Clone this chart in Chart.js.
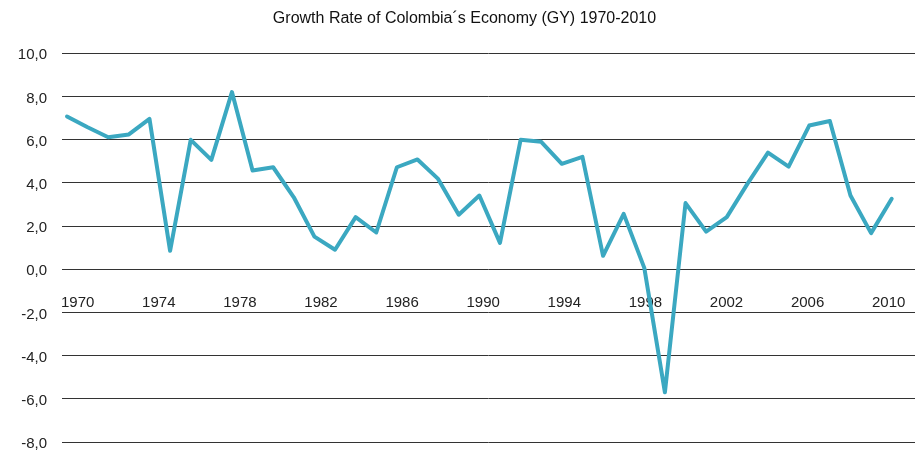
<!DOCTYPE html>
<html lang="en">
<head>
    <meta charset="UTF-8">
    <title>Growth Rate of Colombia's Economy</title>
    <script src="https://cdn.jsdelivr.net/npm/chart.js"></script>
    <style>
        body { margin: 0; background: #fff; }
        #wrap { width: 915px; height: 452px; }
    </style>
</head>
<body>
    <div id="wrap"><canvas id="chart"></canvas></div>

    <script>
        var years = [1970, 1971, 1972, 1973, 1974, 1975, 1976, 1977, 1978, 1979,
                     1980, 1981, 1982, 1983, 1984, 1985, 1986, 1987, 1988, 1989,
                     1990, 1991, 1992, 1993, 1994, 1995, 1996, 1997, 1998, 1999,
                     2000, 2001, 2002, 2003, 2004, 2005, 2006, 2007, 2008, 2009, 2010];
        var growth = [7.07, 6.57, 6.11, 6.24, 6.96, 0.85, 5.99, 5.06, 8.2, 4.57,
                      4.72, 3.33, 1.51, 0.9, 2.41, 1.7, 4.72, 5.08, 4.18, 2.52,
                      3.41, 1.22, 5.99, 5.90, 4.88, 5.2, 0.62, 2.56, 0.06, -5.7,
                      3.06, 1.74, 2.41, 3.95, 5.4, 4.75, 6.65, 6.86, 3.41, 1.67, 3.26];
        var yearLabels = [1970, 1974, 1978, 1982, 1986, 1990, 1994, 1998, 2002, 2006, 2010];
        var yTicks = [-8, -6, -4, -2, 0, 2, 4, 6, 8, 10];

        var points = years.map(function(y, i) { return { x: y, y: growth[i] }; });

        var ctx = document.getElementById('chart');
        new Chart(ctx, {
            type: 'line',
            data: {
                datasets: [{
                    label: 'GY',
                    data: points,
                    borderColor: '#3ba8c1',
                    borderWidth: 4,
                    borderJoinStyle: 'round',
                    borderCapStyle: 'round',
                    pointRadius: 0,
                    tension: 0,
                    xAxisID: 'x',
                    yAxisID: 'y'
                }]
            },
            options: {
                responsive: true,
                maintainAspectRatio: false,
                animation: false,
                layout: { padding: { top: 0, right: 0, bottom: 10, left: 14 } },
                plugins: {
                    legend: { display: false },
                    tooltip: { enabled: false },
                    title: {
                        display: true,
                        text: 'Growth Rate of Colombia\u00b4s Economy (GY) 1970-2010',
                        color: '#111',
                        font: { family: '"Liberation Sans", sans-serif', size: 16, weight: 'normal' },
                        padding: { top: 9, bottom: 25 }
                    }
                },
                scales: {
                    x: {
                        type: 'linear',
                        display: false,
                        min: 1969.757,
                        max: 2011.13
                    },
                    // year labels sit under the zero line, on their own axis
                    xl: {
                        type: 'linear',
                        position: { y: 0 },
                        min: 1969.226,
                        max: 2011.297,
                        afterFit: function(s) {
                            s.height = 0;
                            s.paddingLeft = 0;
                            s.paddingRight = 0;
                        },
                        afterBuildTicks: function(s) {
                            s.ticks = yearLabels.map(function(v) { return { value: v }; });
                        },
                        grid: { display: false },
                        border: { display: false },
                        ticks: {
                            autoSkip: false,
                            maxRotation: 0,
                            padding: 17,
                            color: '#222',
                            font: { family: '"Liberation Sans", sans-serif', size: 15 },
                            callback: function(v) { return String(v); }
                        }
                    },
                    y: {
                        min: -8,
                        max: 10,
                        afterFit: function(s) {
                            s.width = 48;
                            s.paddingTop = 0;
                            s.paddingBottom = 0;
                        },
                        afterBuildTicks: function(s) {
                            s.ticks = yTicks.map(function(v) { return { value: v }; });
                        },
                        border: { display: false },
                        grid: {
                            color: '#333',
                            lineWidth: 1,
                            drawTicks: false
                        },
                        ticks: {
                            padding: 15,
                            labelOffset: 2,
                            color: '#222',
                            font: { family: '"Liberation Sans", sans-serif', size: 15 },
                            callback: function(v) { return v.toFixed(1).replace('.', ','); }
                        }
                    }
                }
            }
        });
    </script>
</body>
</html>
